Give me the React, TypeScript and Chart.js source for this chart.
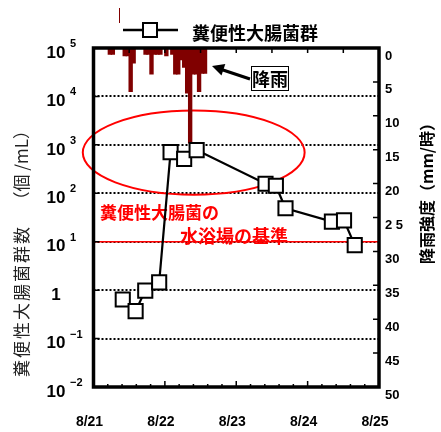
import React, { useEffect, useRef } from 'react';
import { Chart, registerables } from 'chart.js';

Chart.register(...registerables);

// ---- data ----
const xTickLabels = ['8/21', '8/22', '8/23', '8/24', '8/25'];
const rightTickLabels = ['0', '5', '10', '15', '20', '2 5', '30', '35', '40', '45', '50'];
const leftExponents = [5, 4, 3, 2, 1, 0, -1, -2];
const gridExponents = [4, 3, 2, 1, 0, -1];

// sampling time in days since 8/21 00:00
const sampleDays = [0.41, 0.59, 0.725, 0.92, 1.08, 1.27, 1.445, 2.41, 2.555, 2.69, 3.34, 3.51, 3.66];
// fecal coliform count (/mL)
const fecalCounts = [0.64, 0.37, 0.98, 1.45, 710, 515, 780, 157, 143, 49, 26, 27.5, 8.5];

// hourly rainfall (hour index since 8/21 00:00)
const rainHours = [5, 6, 7, 8, 9, 10, 11, 12, 13, 14, 15, 16, 17, 18, 19, 20, 21, 22, 23, 24, 25, 26, 27, 28, 29, 30, 31, 32, 33, 34, 35, 36, 37];
const rainMm = [0.9, 0.9, 0, 0, 0, 1.1, 1.1, 6.4, 2.2, 0, 0, 0, 0.9, 0.9, 3.8, 0.9, 0.9, 0.9, 0, 1.1, 0, 0.9, 3.8, 3.8, 1.7, 2.8, 6.6, 14, 3.8, 3.8, 6.4, 3.7, 3.7];

const standardValue = 10; // bathing-water standard
const seriesName = '糞便性大腸菌群';

const CJK = '"Noto Sans CJK JP", "Noto Sans", sans-serif';
const NUM = '"Liberation Sans", Arial, sans-serif';

const decor = {
  id: 'decor',
  beforeDatasetsDraw(chart: any) {
    const { ctx, chartArea: a, scales } = chart;
    const y = scales.y;
    const x = scales.x;
    ctx.save();
    // dotted grid
    ctx.strokeStyle = '#000';
    ctx.lineWidth = 2;
    ctx.setLineDash([2, 2]);
    for (const e of gridExponents) {
      const py = Math.round(y.getPixelForValue(Math.pow(10, e)));
      ctx.beginPath();
      ctx.moveTo(a.left, py);
      ctx.lineTo(a.right, py);
      ctx.stroke();
    }
    ctx.setLineDash([]);
    // red standard line
    const sy = y.getPixelForValue(standardValue);
    ctx.strokeStyle = '#ff0000';
    ctx.lineWidth = 1.5;
    ctx.beginPath();
    ctx.moveTo(a.left, sy);
    ctx.lineTo(a.right, sy);
    ctx.stroke();
    // red ellipse
    const cx = x.getPixelForValue(1.404);
    const rx = x.getPixelForValue(1.404 + 1.554) - cx;
    const cy = y.getPixelForValue(Math.pow(10, 2.84));
    const ry = y.getPixelForValue(Math.pow(10, 2.84 - 0.868)) - cy;
    ctx.lineWidth = 2;
    ctx.beginPath();
    ctx.ellipse(cx, cy, rx, ry, 0, 0, Math.PI * 2);
    ctx.stroke();
    // red text
    ctx.fillStyle = '#ff0000';
    ctx.textBaseline = 'middle';
    ctx.textAlign = 'left';
    ctx.font = 'bold 17px ' + CJK;
    ctx.fillText('糞便性大腸菌の', 100, 213);
    ctx.font = 'bold 18px ' + CJK;
    ctx.fillText('水浴場の基準', 180, 236);
    ctx.restore();
  },
  afterDatasetsDraw(chart: any) {
    const { ctx, chartArea: a, scales } = chart;
    const y = scales.y;
    const x = scales.x;
    const yR = scales.yR;
    ctx.save();
    ctx.strokeStyle = '#000';
    // ticks
    ctx.lineWidth = 1.5;
    ctx.beginPath();
    for (const e of leftExponents) {
      const py = y.getPixelForValue(Math.pow(10, e));
      ctx.moveTo(a.left, py);
      ctx.lineTo(a.left + 6, py);
    }
    for (let v = 5; v < 50; v += 5) {
      const py = yR.getPixelForValue(v);
      ctx.moveTo(a.right, py);
      ctx.lineTo(a.right - 6, py);
    }
    for (let d = 0.5; d < 4; d += 0.5) {
      const px = x.getPixelForValue(d);
      ctx.moveTo(px, a.top);
      ctx.lineTo(px, a.top + 5);
    }
    for (let k = 1; k < 20; k++) {
      const px = x.getPixelForValue(k / 5);
      const len = k % 5 === 0 ? 6 : 3;
      ctx.moveTo(px, a.bottom);
      ctx.lineTo(px, a.bottom - len);
    }
    ctx.stroke();
    // frame
    ctx.lineWidth = 3.5;
    ctx.strokeRect(a.left, a.top, a.right - a.left, a.bottom - a.top);

    // left tick labels
    ctx.fillStyle = '#000';
    ctx.textBaseline = 'middle';
    for (const e of leftExponents) {
      const py = y.getPixelForValue(Math.pow(10, e));
      ctx.textAlign = 'center';
      ctx.font = 'bold 17px ' + NUM;
      if (e === 0) {
        ctx.fillText('1', 56, py + 5);
      } else {
        ctx.fillText('10', 56, py + 5);
        ctx.textAlign = 'left';
        ctx.font = 'bold 11px ' + NUM;
        ctx.fillText(e < 0 ? '\u2212' + String(-e) : String(e), 70, py - 4);
      }
    }

    // left title
    ctx.save();
    ctx.translate(22, 377);
    ctx.rotate(-Math.PI / 2);
    ctx.fillStyle = '#222';
    ctx.textBaseline = 'middle';
    ctx.textAlign = 'left';
    ctx.font = '17px ' + CJK;
    (ctx as any).letterSpacing = '2px';
    ctx.fillText('糞便性大腸菌群数', 0, 0);
    (ctx as any).letterSpacing = '0px';
    ctx.textAlign = 'right';
    ctx.fillText('（個 /mL）', 255, 0);
    ctx.restore();

    // right title
    ctx.save();
    ctx.translate(427, 264);
    ctx.rotate(-Math.PI / 2);
    ctx.fillStyle = '#000';
    ctx.textBaseline = 'middle';
    ctx.textAlign = 'left';
    ctx.font = 'bold 16px ' + CJK;
    ctx.fillText('降雨強度（mm/時）', 0, 0);
    ctx.restore();

    // legend
    ctx.strokeStyle = '#000';
    ctx.lineWidth = 2.5;
    ctx.beginPath();
    ctx.moveTo(123, 30);
    ctx.lineTo(178, 30);
    ctx.stroke();
    ctx.fillStyle = '#fff';
    ctx.lineWidth = 2;
    ctx.fillRect(143, 23, 14, 14);
    ctx.strokeRect(143, 23, 14, 14);
    ctx.fillStyle = '#000';
    ctx.font = 'bold 18px ' + CJK;
    ctx.textAlign = 'left';
    ctx.textBaseline = 'middle';
    ctx.fillText(seriesName, 192, 33);
    ctx.strokeStyle = '#800000';
    ctx.lineWidth = 1;
    ctx.beginPath();
    ctx.moveTo(119.5, 8);
    ctx.lineTo(119.5, 23);
    ctx.stroke();

    // rain label box + arrow
    ctx.fillStyle = '#fff';
    ctx.fillRect(251, 66, 37, 24);
    ctx.strokeStyle = '#000';
    ctx.lineWidth = 1;
    ctx.strokeRect(251.5, 66.5, 37, 24);
    ctx.fillStyle = '#000';
    ctx.font = 'bold 18px ' + CJK;
    ctx.textAlign = 'center';
    ctx.fillText('降雨', 270, 79);
    ctx.lineWidth = 3;
    ctx.beginPath();
    ctx.moveTo(250, 79);
    ctx.lineTo(220, 69);
    ctx.stroke();
    const ang = Math.atan2(69 - 79, 220 - 250);
    ctx.save();
    ctx.translate(212, 66);
    ctx.rotate(ang);
    ctx.beginPath();
    ctx.moveTo(0, 0);
    ctx.lineTo(-12, -6);
    ctx.lineTo(-12, 6);
    ctx.closePath();
    ctx.fill();
    ctx.restore();

    ctx.restore();
  },
};

export default function App() {
  const ref = useRef<HTMLCanvasElement | null>(null);
  useEffect(() => {
    if (!ref.current) return;
    const chart = new Chart(ref.current, {
      type: 'bar',
      data: {
        datasets: [
          {
            type: 'line',
            label: seriesName,
            data: sampleDays.map((d, i) => ({ x: d, y: fecalCounts[i] })),
            yAxisID: 'y',
            xAxisID: 'x',
            borderColor: '#000',
            borderWidth: 2.2,
            pointStyle: 'rect',
            pointRadius: 10,
            pointBorderWidth: 2,
            pointBackgroundColor: '#fff',
            pointBorderColor: '#000',
            order: 0,
            clip: false,
          } as any,
          {
            type: 'bar',
            label: '降雨',
            data: rainHours.map((h, i) => ({ x: (h + 0.5) / 24, y: rainMm[i] })),
            yAxisID: 'yR',
            xAxisID: 'x',
            backgroundColor: '#800000',
            borderWidth: 0,
            inflateAmount: 0.7,
            barPercentage: 1,
            categoryPercentage: 1,
            order: 1,
          } as any,
        ],
      },
      options: {
        animation: false,
        responsive: true,
        maintainAspectRatio: false,
        events: [],
        layout: { padding: { top: 48, left: 0, right: 0, bottom: 0 } },
        plugins: { legend: { display: false }, tooltip: { enabled: false } },
        scales: {
          x: {
            type: 'linear',
            position: 'bottom',
            min: 0,
            max: 4,
            offset: false,
            grid: { display: false, drawTicks: false },
            border: { display: false },
            ticks: {
              stepSize: 1,
              padding: 27,
              labelOffset: -4,
              color: '#000',
              font: { family: NUM, size: 14, weight: 'bold' },
              callback: (v: any) => xTickLabels[Math.round(Number(v))],
            },
            afterFit: (s: any) => { s.height = 45; },
          },
          y: {
            type: 'logarithmic',
            position: 'left',
            min: 0.01,
            max: 100000,
            grid: { display: false, drawTicks: false },
            border: { display: false },
            ticks: { display: false },
            afterFit: (s: any) => { s.width = 93.5; },
          },
          yR: {
            type: 'linear',
            position: 'right',
            min: 0,
            max: 50,
            reverse: true,
            grid: { display: false, drawTicks: false },
            border: { display: false },
            ticks: {
              stepSize: 5,
              padding: 6,
              labelOffset: 8,
              color: '#000',
              font: { family: NUM, size: 13, weight: 'bold' },
              callback: (v: any) => rightTickLabels[Math.round(Number(v) / 5)],
            },
            afterFit: (s: any) => { s.width = 62; },
          },
        },
      } as any,
      plugins: [decor],
    });
    return () => chart.destroy();
  }, []);
  return (
    <div style={{ position: 'fixed', left: 0, top: 0, width: 441, height: 432, background: '#fff' }}>
      <canvas ref={ref} />
    </div>
  );
}
